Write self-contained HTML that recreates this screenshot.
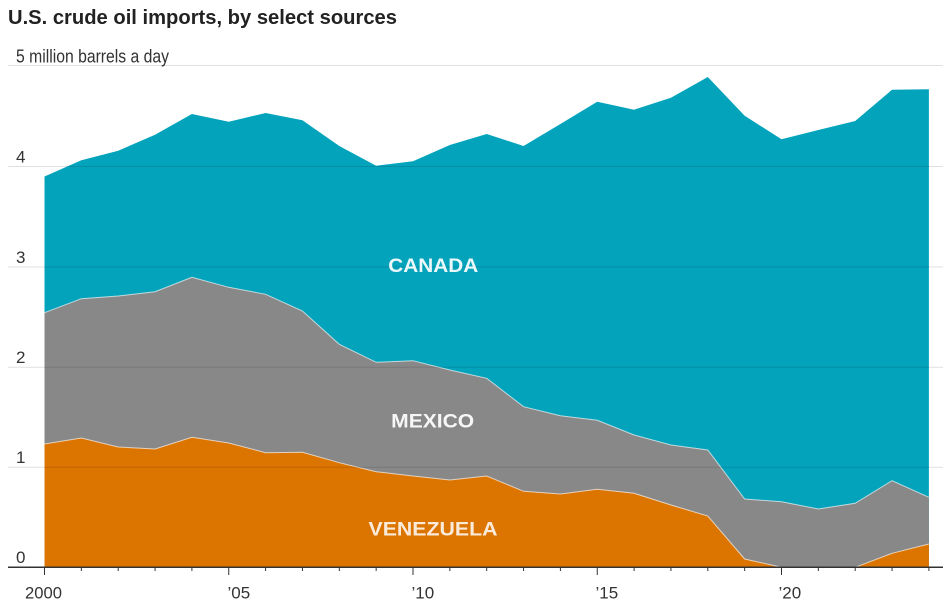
<!DOCTYPE html>
<html>
<head>
<meta charset="utf-8">
<style>
  html,body{margin:0;padding:0;background:#fff;}
  body{width:943px;height:609px;overflow:hidden;}
  svg{display:block;font-family:"Liberation Sans",sans-serif;}
</style>
</head>
<body>
<svg width="943" height="609" viewBox="0 0 943 609" xmlns="http://www.w3.org/2000/svg">
  <rect width="943" height="609" fill="#fff"/>
  <text x="8" y="24" font-size="20" font-weight="bold" fill="#222" textLength="389" lengthAdjust="spacingAndGlyphs">U.S. crude oil imports, by select sources</text>

  <!-- areas -->
  <polygon fill="#03a3bc" points="44.5,567.3 44.5,176.5 81.35,160.3 118.2,150.7 155.05,134.7 191.9,114 228.75,121.7 265.6,113 302.45,120.3 339.3,146 376.15,165.7 413,161.3 449.85,145 486.7,134 523.55,146 560.4,124 597.25,101.7 634.1,109.7 670.95,97.7 707.8,77 744.65,115.7 781.5,139.3 818.35,130 855.2,121 892.05,89.7 928.9,89.3 928.9,567.3"/>
  <polygon fill="#888888" points="44.5,567.3 44.5,312.7 81.35,298.7 118.2,296 155.05,291.7 191.9,277.3 228.75,287.3 265.6,294.3 302.45,311 339.3,344.3 376.15,362.3 413,360.7 449.85,370 486.7,378.3 523.55,406.7 560.4,415.7 597.25,420.3 634.1,435 670.95,445 707.8,450 744.65,499 781.5,501.7 818.35,509 855.2,503.3 892.05,480.7 928.9,497.3 928.9,567.3"/>
  <polygon fill="#dc7400" points="44.5,567.3 44.5,444 81.35,438 118.2,447 155.05,449 191.9,437.3 228.75,443 265.6,452.7 302.45,452.3 339.3,462.7 376.15,471.7 413,476 449.85,480 486.7,476 523.55,491.3 560.4,494 597.25,489.3 634.1,493.3 670.95,505 707.8,516 744.65,559 781.5,567.3 818.35,567.3 855.2,567.3 892.05,553.3 928.9,544 928.9,567.3"/>

  <!-- boundaries -->
  <polyline fill="none" stroke="#fff" stroke-opacity="0.65" stroke-width="1" points="44.5,312.7 81.35,298.7 118.2,296 155.05,291.7 191.9,277.3 228.75,287.3 265.6,294.3 302.45,311 339.3,344.3 376.15,362.3 413,360.7 449.85,370 486.7,378.3 523.55,406.7 560.4,415.7 597.25,420.3 634.1,435 670.95,445 707.8,450 744.65,499 781.5,501.7 818.35,509 855.2,503.3 892.05,480.7 928.9,497.3"/>
  <polyline fill="none" stroke="#fff" stroke-opacity="0.65" stroke-width="1" points="44.5,444 81.35,438 118.2,447 155.05,449 191.9,437.3 228.75,443 265.6,452.7 302.45,452.3 339.3,462.7 376.15,471.7 413,476 449.85,480 486.7,476 523.55,491.3 560.4,494 597.25,489.3 634.1,493.3 670.95,505 707.8,516 744.65,559 781.5,567.3 818.35,567.3 855.2,567.3 892.05,553.3 928.9,544"/>

  <!-- gridlines -->
  <g stroke="#000" stroke-opacity="0.12" stroke-width="1">
    <line x1="8" x2="943" y1="65.5" y2="65.5"/>
    <line x1="8" x2="943" y1="166.5" y2="166.5"/>
    <line x1="8" x2="943" y1="267" y2="267"/>
    <line x1="8" x2="943" y1="367.3" y2="367.3"/>
    <line x1="8" x2="943" y1="467.3" y2="467.3"/>
  </g>

  <!-- y labels -->
  <g font-size="17" fill="#333">
    <text x="16" y="62.5" font-size="18" textLength="153" lengthAdjust="spacingAndGlyphs">5 million barrels a day</text>
    <text x="16" y="162.3">4</text>
    <text x="16" y="262.8">3</text>
    <text x="16" y="362.8">2</text>
    <text x="16" y="462.8">1</text>
    <text x="16" y="562.8">0</text>
  </g>

  <!-- series labels -->
  <g font-weight="bold" font-size="19.5" text-anchor="middle">
    <text x="433.3" y="272" fill="#fff" fill-opacity="0.92" textLength="90" lengthAdjust="spacingAndGlyphs">CANADA</text>
    <text x="432.7" y="427.3" fill="#fff" fill-opacity="0.92" textLength="83" lengthAdjust="spacingAndGlyphs">MEXICO</text>
    <text x="433" y="535.7" fill="#fff" fill-opacity="0.85" textLength="129" lengthAdjust="spacingAndGlyphs">VENEZUELA</text>
  </g>

  <!-- axis -->
  <line x1="8" x2="943" y1="567.3" y2="567.3" stroke="#333" stroke-width="1.5"/>
  <g stroke="#333" stroke-width="1">
    <line x1="44.5" x2="44.5" y1="567" y2="575"/>
    <line x1="81.35" x2="81.35" y1="567" y2="571"/>
    <line x1="118.2" x2="118.2" y1="567" y2="571"/>
    <line x1="155.05" x2="155.05" y1="567" y2="571"/>
    <line x1="191.9" x2="191.9" y1="567" y2="571"/>
    <line x1="228.75" x2="228.75" y1="567" y2="575"/>
    <line x1="265.6" x2="265.6" y1="567" y2="571"/>
    <line x1="302.45" x2="302.45" y1="567" y2="571"/>
    <line x1="339.3" x2="339.3" y1="567" y2="571"/>
    <line x1="376.15" x2="376.15" y1="567" y2="571"/>
    <line x1="413" x2="413" y1="567" y2="575"/>
    <line x1="449.85" x2="449.85" y1="567" y2="571"/>
    <line x1="486.7" x2="486.7" y1="567" y2="571"/>
    <line x1="523.55" x2="523.55" y1="567" y2="571"/>
    <line x1="560.4" x2="560.4" y1="567" y2="571"/>
    <line x1="597.25" x2="597.25" y1="567" y2="575"/>
    <line x1="634.1" x2="634.1" y1="567" y2="571"/>
    <line x1="670.95" x2="670.95" y1="567" y2="571"/>
    <line x1="707.8" x2="707.8" y1="567" y2="571"/>
    <line x1="744.65" x2="744.65" y1="567" y2="571"/>
    <line x1="781.5" x2="781.5" y1="567" y2="575"/>
    <line x1="818.35" x2="818.35" y1="567" y2="571"/>
    <line x1="855.2" x2="855.2" y1="567" y2="571"/>
    <line x1="892.05" x2="892.05" y1="567" y2="571"/>
    <line x1="928.9" x2="928.9" y1="567" y2="571"/>
  </g>

  <!-- x labels -->
  <g font-size="17" fill="#333">
    <text x="43.5" y="598.3" text-anchor="middle" textLength="37" lengthAdjust="spacingAndGlyphs">2000</text>
    <text x="227.5" y="598.3">’05</text>
    <text x="411.5" y="598.3">’10</text>
    <text x="595.5" y="598.3">’15</text>
    <text x="778.5" y="598.3">’20</text>
  </g>
</svg>
</body>
</html>
